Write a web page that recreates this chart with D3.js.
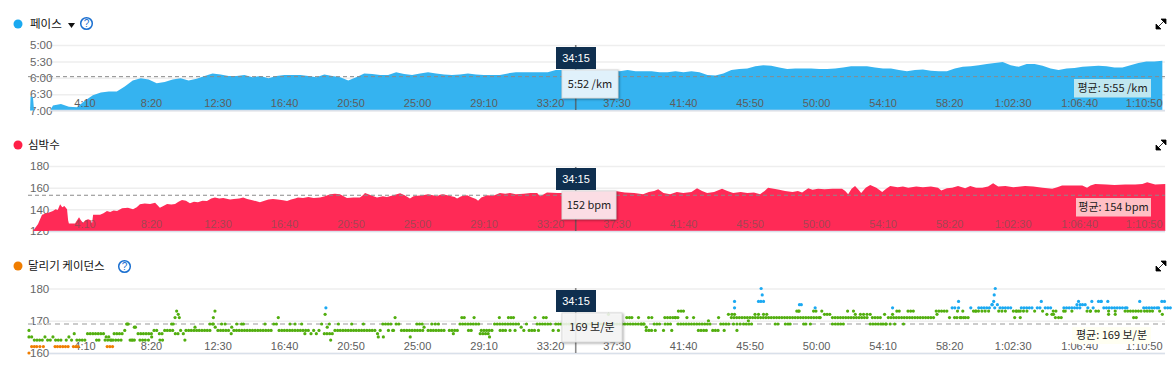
<!DOCTYPE html>
<html>
<head>
<meta charset="utf-8">
<script src="https://cdn.jsdelivr.net/npm/d3@7"></script>
<style>
  html, body { margin: 0; padding: 0; background: #fff; }
  svg { display: block; }
  text { font-family: "Liberation Sans", Arial, sans-serif; }
  .kr { font-family: "Noto Sans CJK KR", sans-serif; }
  .axis .domain { display: none; }
</style>
</head>
<body>
<div class="canvas"></div>
<script>
// x axis ticks (seconds into the run)
const tickSeconds = [250, 500, 750, 1000, 1250, 1500, 1750, 2000, 2250, 2500, 2750, 3000, 3250, 3500, 3750, 4000, 4250];
const tickLabels = ['4:10', '8:20', '12:30', '16:40', '20:50', '25:00', '29:10', '33:20', '37:30', '41:40', '45:50', '50:00', '54:10', '58:20', '1:02:30', '1:06:40', '1:10:50'];

// pace, seconds per km: the short spike at the very start, then one value every 30 seconds from 1:30
const paceHeadSeconds = [0, 4, 6, 15, 19, 80];
const paceHead = [420, 420, 394, 396, 420, 420];
const paceStep = 30;
const paceStart = 90;
const pace = [411, 408, 413, 414, 402, 392, 387, 385, 385, 376, 365, 361, 363, 370, 368, 363, 361, 365, 362, 357, 352,
  354, 357, 357, 355, 359, 357, 361, 357, 355, 355, 355, 357, 359, 354, 357, 359, 365, 359, 352, 353, 355, 355, 350,
  353, 355, 352, 350, 352, 354, 355, 354, 352, 354, 355, 355, 355, 352, 350, 350, 350, 350, 350, 346, 346, 346, 345, 346, 346, 346, 346,
  348, 346, 348, 348, 348, 350, 350, 348, 350, 348, 350, 355, 356, 352, 346, 344, 343, 339, 337, 338, 341, 344, 343, 343, 343, 344, 344,
  343, 341, 339, 339, 339, 341, 343, 343, 346, 348, 346, 345, 347, 348, 348, 343, 340, 339, 337, 335, 333, 331, 337, 340, 335, 335, 338,
  343, 346, 343, 342, 340, 339, 338, 339, 341, 341, 337, 333, 330, 330, 329];
const paceTicks = [300, 330, 360, 390, 420];
const paceTickLabels = ['5:00', '5:30', '6:00', '6:30', '7:00'];
const paceAvgLine = 358;

// heart rate, bpm, read at the turning points of the outline
const hrSeconds = [0, 15, 34, 49, 60, 75, 90, 100, 108, 117, 125, 133, 143, 147, 150, 173, 188, 195, 203, 212, 222, 232, 237, 241, 267, 280, 293, 305, 318, 331, 350, 372, 391, 405, 417, 435, 455, 474, 492, 505, 519, 535, 549, 562, 575, 590, 605, 620, 635, 652, 669, 685, 699, 715, 730, 756, 770, 790, 805, 820, 840, 868, 885, 900, 917, 935, 955, 970, 985, 1000, 1011, 1030, 1050, 1070, 1094, 1112, 1132, 1150, 1169, 1195, 1220, 1244, 1255, 1263, 1285, 1308, 1330, 1345, 1370,
  1395, 1412, 1432, 1445, 1459, 1480, 1500, 1518, 1534, 1545, 1556, 1580, 1600, 1609, 1625, 1647, 1665, 1680, 1688, 1700, 1722, 1745, 1770, 1790, 1808, 1830, 1860, 1885, 1910, 1921, 1935, 1947, 1985, 2023, 2040, 2060, 2090, 2120, 2147, 2175, 2203, 2240, 2275, 2308, 2330, 2350, 2365, 2385, 2410, 2435, 2459, 2490, 2511, 2530, 2549, 2575, 2605, 2625, 2647, 2675, 2700, 2725, 2748, 2765, 2778,
  2805, 2820, 2842, 2870, 2890, 2906, 2929, 2945, 2966, 2990, 3020, 3056, 3068, 3079, 3092, 3105, 3118, 3128, 3145, 3162, 3185, 3207, 3222, 3237, 3265, 3285, 3305, 3335, 3360, 3390, 3417, 3429, 3450, 3470, 3492, 3519, 3538, 3560, 3583, 3605, 3624, 3643, 3670, 3700, 3744, 3775, 3810, 3846, 3865, 3883, 3920, 3959, 3977, 3990, 4008, 4050, 4080, 4120, 4158, 4185, 4203, 4233, 4271];
const hr = [120, 120, 126.5, 135, 136, 137, 138.5, 140, 139.5, 144.6, 142, 143, 140, 130, 127, 127, 132.6, 130, 127.7, 130, 130.8, 130, 127, 135, 135, 136.5, 138.5, 137.5, 139, 138.5, 141, 141.5, 140, 142, 144.6, 145.5, 145, 146, 141.5, 143, 145, 144.5, 145, 147, 148.6, 148, 145.6, 147, 146.5, 148, 147.7, 150, 151, 150, 150.5, 149, 149.5, 150, 151, 149.5, 148.5, 146.5, 148, 149, 149.5, 149, 148.5, 147.7, 149, 150, 151, 150.5, 151.5, 150.5, 151, 152, 154, 154.5, 154, 150.5, 151, 151, 153, 155, 153, 151, 152, 151.5, 153,
  154.8, 153, 150, 152, 152.6, 153, 154, 153, 152, 153.5, 154, 152.5, 151.5, 150, 152, 153, 151, 149.5, 148, 151, 153, 152.5, 155, 154.5, 155, 154, 154.5, 155, 155, 152, 154, 155.5, 155, 155, 153, 152, 154, 155, 155, 156, 157, 155.5, 155, 154, 156, 157, 158.5, 155, 154, 156, 155, 156, 159.4, 157, 155, 156, 159, 157, 155, 156, 155, 155.5, 154, 157, 160,
  158.8, 158, 157, 156, 157, 155.5, 159.4, 158, 159, 158.5, 159, 159, 157, 154, 159, 161.5, 158, 155, 160, 162.5, 160, 156, 159, 161.5, 160.5, 161, 160, 161, 160.5, 161, 160, 157.5, 159.5, 160, 161.5, 159.5, 161.5, 160, 160, 161, 164, 161, 161.5, 160.5, 161.5, 161, 160, 159, 160.5, 162, 162, 162, 160, 162, 163.4, 163, 162.5, 163, 163, 163.5, 165, 163, 163.4];
const hrTicks = [120, 140, 160, 180];
const hrAvgLine = 153;

// running cadence, steps per minute, one value every 10 seconds (null = no dot)
const cadenceStep = 10;
const cadence = [167, 165, 164, 164, 164, 164, 165, 164, 164, 165, 164, 164, 164, null, 164, 165, 164, 166, 164, 164, 164, 164, 166, 166, 166, 166, 166, 166, 166, 165, 165, 164, 166, 166, 166, 166, 167, 169, 164, 164, 168,
  166, 166, 166, 166, 166, 166, 167, 167, 166, 166, 167, 167, 167, 167, 166, 166, 167, 166, 167, 167, 167, 167, 167, 167, 167, 167, 167, 167, 169, 168, 167, 167, 167, 167, 167, 166, 167, 167, 167, 167, 167, 167, 167, 167, 167, 167, 167, 167, 167, 167, 167, 169, 169, 167, 167, 167, 167, 167, 167, 167, 167, 167, 167, 167, 167, 166, 167, 166, 167, 169, 166, 166, 166, 166, 167, 167, 167, 167, 167, 167, 167, 167, 167, 167, 167, 167, 167, 167, 167, 167, 166, 167, 169, 169, 169, 169, 167, 169, 169,
  167, 167, 167, 167, 167, 167, 167, 167, 167, null, 167, 167, 167, 167, 167, 167, 167, null, 167, 167, 167, 167, 169, 169, 169, 169, 169, 169, 169, 169, 167, 167, 167, 167, 167, 169, 169, 169, 169, 169, 169, 169, 169, 169, 169, 168, 167, 169, 167, 167, 167, 169, 169, 169, 169, 169, 169, 167, 169, 169, 169, 169, 169, 169, 169, 169, 169, 169, 169, 169,
  169, 169, 169, 169, 169, 169, 169, 169, 169, 169, 169, 169, 169, 169, 169, 169, 169, 169, 169, 169, 169, 169, 167, 167, 167, 169, 169, 169, null, 171, 171, 171, 171, 171, 169, 169, 169, 169, 169, 169, 169, 169, 169, 169, 169, 169, 169, 167, 167, 167, 169, 169, 169, 169, 171, 171, 171, 171, 171, 171, 171, 171, 171, 171, 171, 171, 171, 171, 171, 171, 171, 171, 171, 171, 171, 171, 171, 171, 171, 171, 171, 171,
  171, 171, 171, 171, 171, 171, 173, 172, 172, 172, 171, 171, 171, 171, 171, 171, 171, 171, 171, 171, 171, 171, 171, 171, null, 171, 171, 171, 171, 169, 169, 171, 171, 171, 171, 171, 171, 171, 171, 171, 171, 171, 171, 171, 171, 171, 171, 171, 171, 173, 173, 173, 173, 173, 171, 174, 174, 173, 171, 173, 171, 171, 174, 173, 173, 174, 174, 174, 174, 174, 175, 174, 175, 174, 174, 174, 174, 174, 173, 173, 173, 174, 174, 174, 174, 174, 173, 174, 174, 173, 174, 174, 174, 173, 173, 171, 171, 174, 174, 174, 174, 174, 174, 174, 175, 175, 174, 173, 174, 173, 176, 176, 174, 174, 174, 174, 174, 174, 174, 174, 173, 173, 173, 173, 173, 173, 173, 174, 174, 174, 174, 174, 174, 173, 172, 174, 174, 174];

// stray dots away from the main row, and doubled rows
const extraSeconds = [0, 263, 254, 286, 296, 306, 316, 326, 336, 346, 386, 396, 417, 427, 437, 449, 461, 492, 502, 549, 555, 561, 565, 536, 542, 586, 624, 396, 373, 367, 680, 693, 699, 693, 724, 737, 762, 781, 799, 806, 887, 981, 1000, 1025, 937, 1037, 1113, 1116, 1121, 1129, 1134, 1163, 1213, 1257, 1313, 1332, 1376, 1351, 1367,
  1433, 1458, 1468, 1478, 1485, 1514, 1527, 1539, 1595, 1627, 1636, 1673, 1652, 1662, 1696, 1706, 1716, 1731, 1726, 1768, 1802, 1812, 1821, 1771, 1781, 1791, 1808, 1827, 1902, 1934, 1944, 1915, 1990, 2178, 2247, 2257, 2266, 2291, 2303, 2312, 2320, 2329, 2341, 2354, 2385, 2416, 2391, 2401, 2411, 2429, 2439, 2441, 2451, 2460, 2473, 2498, 2516, 2526, 2536, 2546, 2554, 2592, 2613, 2629, 2642, 2652, 2661, 2648, 2661, 2673, 2686, 2696, 2706, 2716, 2704, 2729, 2742, 2761, 2773, 2892, 2652, 2652, 2752, 2756, 2742, 2751, 2761, 2896,
  2886, 2895, 2805, 2815, 2843, 2853, 2861, 2912, 2920, 2937, 2949, 2958, 2974, 3020, 3031, 3041, 3051, 3061, 3077, 3099, 3106, 3125, 3137, 3150, 3162, 3162, 3172, 3182, 3192, 3202, 3216, 3222, 3237, 3254, 3246, 3262, 3271, 3287, 3304, 3314, 3324, 3413, 3479, 3488, 3504, 3513, 2903, 2955, 3246, 3494, 3494, 3626, 3628, 3632, 3620, 3557, 3569, 3582, 3594, 3607, 3645, 3657, 3670, 3713, 3726, 3738, 3751, 3705, 3726, 3805, 3826, 3845, 3851, 3858, 3889, 3920, 3895, 3945, 3939, 3951, 3977, 3989, 3995, 4030, 4055, 4020, 4058, 4058, 4083, 4083, 4121, 4127, 4152, 4162, 4175, 4193, 4203, 4213, 4223, 4258, 4268, 4246,
  10, 20, 29, 41, 54, 98, 107, 117, 127, 137, 147, 167, 177, 185, 294, 304, 314, 0];
const extraValues = [165, 164, 164, 164, 164, 164, 164, 164, 164, 164, 164, 164, 164, 164, 164, 164, 165, 164, 164, 171, 173, 172, 171, 169, 169, 164, 168, 168, 169, 169, 169, 169, 173, 171, 169, 169, 168, 169, 169, 169, 169, 169, 169, 169, 171, 166, 172, 174, 168, 169, 164, 169, 169, 169, 165, 165, 171, 167, 167,
  165, 169, 169, 169, 168, 169, 169, 169, 166, 171, 171, 171, 167, 167, 166, 166, 166, 165, 166, 171, 171, 171, 171, 167, 167, 167, 167, 167, 171, 171, 171, 167, 167, 172, 171, 171, 171, 171, 169, 169, 168, 171, 171, 167, 167, 167, 169, 169, 169, 171, 171, 173, 173, 173, 171, 171, 167, 167, 167, 167, 170, 171, 167, 172, 172, 172, 167, 169, 169, 169, 169, 169, 169, 169, 170, 172, 172, 172, 172, 173, 176, 174, 180, 178, 176, 176, 176, 175,
  173, 173, 169, 169, 169, 169, 169, 169, 169, 169, 173, 173, 171, 169, 169, 169, 169, 169, 173, 173, 172, 172, 172, 172, 172, 169, 169, 169, 169, 169, 172, 169, 169, 169, 172, 173, 173, 169, 173, 173, 173, 172, 171, 171, 171, 171, 175, 174, 174, 176, 174, 176, 178, 180, 175, 173, 173, 173, 173, 173, 173, 173, 173, 173, 173, 173, 173, 171, 171, 176, 172, 172, 172, 171, 173, 173, 173, 176, 175, 175, 173, 173, 176, 176, 176, 173, 173, 172, 173, 172, 174, 174, 171, 171, 176, 173, 173, 173, 173, 176, 176, 174,
  162, 162, 162, 162, 162, 162, 162, 162, 162, 162, 162, 162, 162, 162, 162, 162, 162, 160];
const cadenceTicks = [160, 170, 180];
const cadenceAvgLine = 169;

const width = 1175;
const height = 371;

// select svg container first
const svg = d3.select('.canvas')
  .append('svg')
    .attr('width', width)
    .attr('height', height);

const x = d3.scaleLinear().domain([0, 4270]).range([29, 1165]);
const cursorSeconds = 2055;

const colors = { pace: '#35b3f0', hr: '#ff2a56', dotOrange: '#f07d00', dotGreen: '#52ae0f', dotBlue: '#1ba9f2' };

// draws grid + y labels behind the marks
const yAxis = (y, ticks, labels) => {
  const g = svg.append('g')
    .attr('class', 'axis')
    .attr('transform', 'translate(49, 0)')
    .call(d3.axisLeft(y).tickValues(ticks).tickSize(-(1165 - 49))
      .tickFormat((d, i) => labels ? labels[i] : d));
  g.selectAll('line').attr('stroke', '#eeeeee').attr('stroke-width', 1.5);
  g.selectAll('text')
    .attr('x', -19)
    .attr('text-anchor', 'start')
    .attr('fill', '#666')
    .attr('font-size', 11.5);
};

// time labels sit inside the plot, just above the baseline
const xAxis = (baseline, fill, opacity) => {
  const g = svg.append('g')
    .attr('class', 'axis')
    .attr('transform', `translate(0, ${baseline})`)
    .call(d3.axisBottom(x).tickValues(tickSeconds).tickSize(0).tickFormat((d, i) => tickLabels[i]));
  g.selectAll('text')
    .attr('y', -7)
    .attr('dy', '.32em')
    .attr('dx', (d, i) => tickLabels[i].length > 5 ? (i === 16 ? -16 : -14) : -11)
    .attr('fill', fill)
    .attr('fill-opacity', opacity)
    .attr('font-size', 11);
};

const baseLine = (baseline) => {
  svg.append('line')
    .attr('x1', 49).attr('x2', 1165)
    .attr('y1', baseline).attr('y2', baseline)
    .attr('stroke', '#d9e0ea').attr('stroke-width', 1.5);
};

const avgLine = (yPos, stroke, strokeWidth, dash) => {
  svg.append('line')
    .attr('x1', 28).attr('x2', 1165)
    .attr('y1', yPos).attr('y2', yPos)
    .attr('stroke', stroke).attr('stroke-width', strokeWidth)
    .attr('stroke-dasharray', dash);
};

const panelTitle = (cy, color, label, textX) => {
  svg.append('circle').attr('cx', 18).attr('cy', cy).attr('r', 4.5).attr('fill', color);
  svg.append('text').attr('class', 'kr')
    .attr('x', textX).attr('y', cy).attr('dy', '.36em')
    .attr('font-size', 11.5).attr('fill', '#111')
    .text(label);
};

const helpIcon = (cx, cy) => {
  svg.append('circle').attr('cx', cx).attr('cy', cy).attr('r', 5.8)
    .attr('fill', '#fff').attr('stroke', '#1a6fd0').attr('stroke-width', 1.5);
  svg.append('text').attr('x', cx).attr('y', cy).attr('dy', '.36em')
    .attr('text-anchor', 'middle').attr('font-size', 10).attr('fill', '#1a6fd0')
    .text('?');
};

const expandIcon = (cy) => {
  svg.append('path')
    .attr('transform', `translate(1161, ${cy})`)
    .attr('d', 'M0,-5 L5,-5 L5,0 Z M-5,0 L-5,5 L0,5 Z M-3,3 L3,-3')
    .attr('fill', '#000').attr('stroke', '#000').attr('stroke-width', 0.8);
};

const cursor = (top, bottom, color) => {
  svg.append('line')
    .attr('x1', x(cursorSeconds)).attr('x2', x(cursorSeconds))
    .attr('y1', top).attr('y2', bottom)
    .attr('stroke', color).attr('stroke-width', 1.6).attr('opacity', 0.75);
};

const timeBadge = (top) => {
  svg.append('rect').attr('x', 556).attr('y', top).attr('width', 40).attr('height', 22).attr('fill', '#0f2f4f');
  svg.append('text').attr('x', 576).attr('y', top + 11).attr('dy', '.34em')
    .attr('text-anchor', 'middle').attr('fill', '#fff').attr('font-size', 11)
    .text('34:15');
};

const valueBox = (top, w, h, fill, label) => {
  svg.append('rect').attr('x', 562).attr('y', top).attr('width', w).attr('height', h)
    .attr('fill', fill).attr('stroke', '#ddd').attr('stroke-width', 1)
    .style('filter', 'drop-shadow(1px 1px 1px rgba(0,0,0,.35))');
  svg.append('text').attr('class', 'kr')
    .attr('x', 562 + w / 2).attr('y', top + h / 2).attr('dy', '.34em')
    .attr('text-anchor', 'middle').attr('fill', '#222').attr('font-size', 11)
    .text(label);
};

const avgBox = (left, top, w, h, fill, label) => {
  svg.append('rect').attr('x', left).attr('y', top).attr('width', w).attr('height', h).attr('fill', fill);
  svg.append('text').attr('class', 'kr')
    .attr('x', left + w / 2).attr('y', top + h / 2).attr('dy', '.34em')
    .attr('text-anchor', 'middle').attr('fill', '#222').attr('font-size', 11)
    .text(label);
};

// pace panel
const yPace = d3.scaleLinear().domain([300, 420]).range([45, 110.5]);
panelTitle(24, '#1aa9f0', '페이스', 30);
svg.append('path').attr('d', 'M68,23 L75,23 L71.5,28 Z').attr('fill', '#111');
helpIcon(86.5, 23.5);
expandIcon(24);
yAxis(yPace, paceTicks, paceTickLabels);

const pacePoints = paceHead.map((v, i) => ({ t: paceHeadSeconds[i], v }))
  .concat(pace.map((v, i) => ({ t: paceStart + i * paceStep, v })));
const paceArea = d3.area()
  .x(d => x(d.t))
  .y0(yPace(420))
  .y1(d => yPace(d.v));
svg.append('path').datum(pacePoints).attr('d', paceArea).attr('fill', colors.pace);
baseLine(110.5);
xAxis(110.5, '#5d5d5d', 1);
avgLine(yPace(paceAvgLine), '#8a8a8a', 1, '4,3');
cursor(45, 110, '#555');
timeBadge(47);
valueBox(70, 56, 28, '#e0f1fb', '5:52 /km');
avgBox(1074, 79, 77, 18.5, '#bfe7f0', '평균: 5:55 /km');

// heart rate panel
const yHr = d3.scaleLinear().domain([120, 180]).range([231, 166]);
panelTitle(145, '#ff1f47', '심박수', 28);
expandIcon(145);
yAxis(yHr, hrTicks);

const hrArea = d3.area()
  .x((d, i) => x(hrSeconds[i]))
  .y0(yHr(120))
  .y1(d => yHr(d));
svg.append('path').datum(hr).attr('d', hrArea).attr('fill', colors.hr);
baseLine(231.5);
xAxis(231, '#4f5f50', 0.55);
avgLine(yHr(hrAvgLine), '#8a8a8a', 1, '4,3');
cursor(167, 231, '#555');
timeBadge(168);
valueBox(191, 54, 28, '#fbdde4', '152 bpm');
avgBox(1076, 198, 75, 18.5, '#ffbfc4', '평균: 154 bpm');

// cadence panel
const yCadence = d3.scaleLinear().domain([160, 180]).range([353, 288.5]);
panelTitle(266, '#f07d00', '달리기 케이던스', 28);
helpIcon(124.5, 266.5);
expandIcon(266);
yAxis(yCadence, cadenceTicks);
baseLine(353.5);
xAxis(353.5, '#5d5d5d', 1);
avgLine(yCadence(cadenceAvgLine), '#cccccc', 2, '5,4');

const dotColor = d3.scaleThreshold().domain([163, 174]).range([colors.dotOrange, colors.dotGreen, colors.dotBlue]);

const mainDots = cadence
  .map((v, i) => ({ t: i * cadenceStep, v }))
  .filter(d => d.v !== null);
const extraDots = extraSeconds.map((t, i) => ({ t, v: extraValues[i] }));

svg.append('g').selectAll('circle')
  .data(mainDots.concat(extraDots))
  .enter()
  .append('circle')
    .attr('cx', d => x(d.t))
    .attr('cy', d => yCadence(d.v))
    .attr('r', 1.6)
    .attr('fill', d => dotColor(d.v));

cursor(288, 353, '#666');
timeBadge(290);
valueBox(313, 60, 29, 'rgba(255,255,255,0.85)', '169 보/분');
avgBox(1072, 327, 79, 17, '#fffff2', '평균: 169 보/분');
</script>
</body>
</html>
